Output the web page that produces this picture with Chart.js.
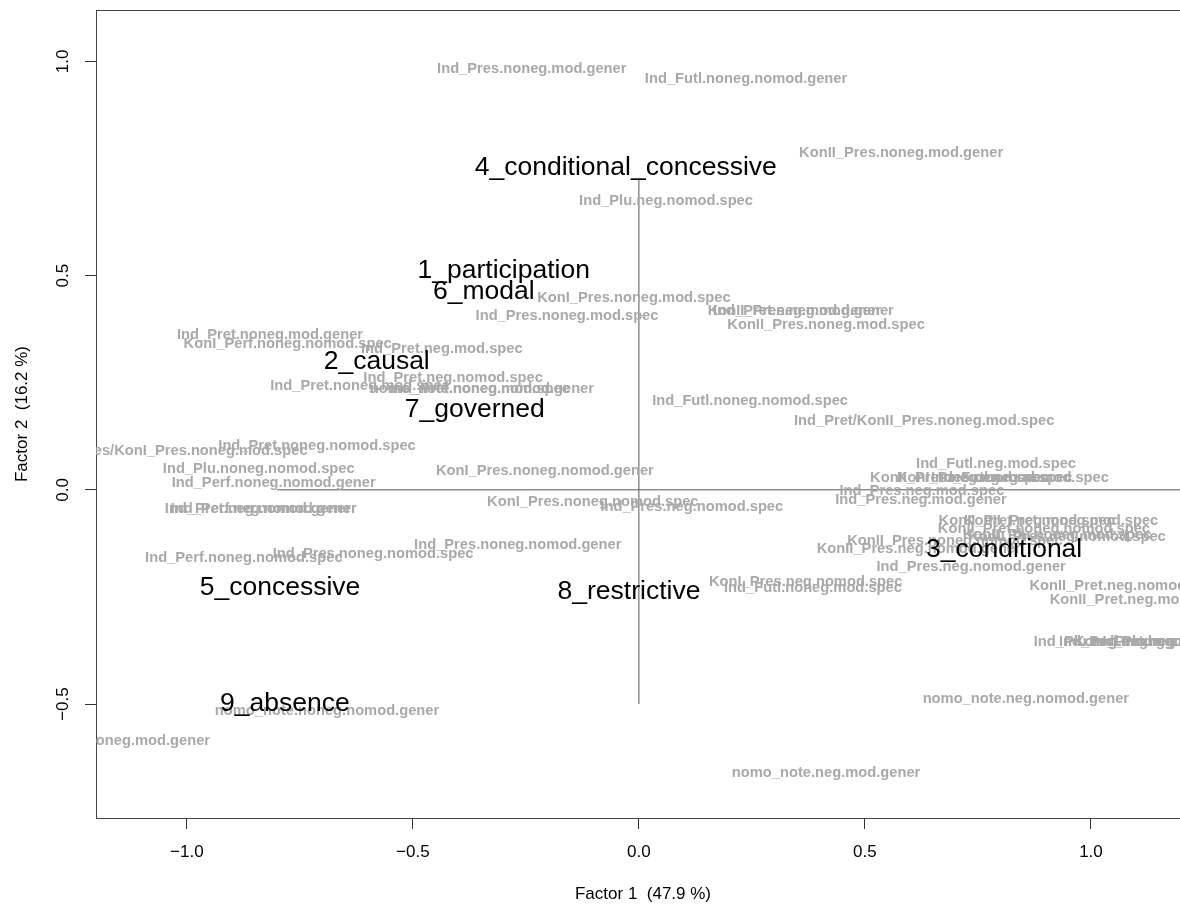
<!DOCTYPE html>
<html>
<head>
<meta charset="utf-8">
<script src="https://cdn.jsdelivr.net/npm/chart.js@4"></script>
<style>
  body { margin: 0; background: #fff; }
  canvas { display: block; }
</style>
</head>
<body>
<canvas id="caPlot" width="1180" height="905"></canvas>
<script>
const xTicks = [-1.0, -0.5, 0.0, 0.5, 1.0];
const yTicks = [-0.5, 0.0, 0.5, 1.0];

// row categories (black)
const rowLabels = ["4_conditional_concessive", "1_participation", "6_modal", "2_causal", "7_governed",
  "5_concessive", "8_restrictive", "3_conditional", "9_absence"];
const rowX = [-0.029, -0.299, -0.343, -0.580, -0.363, -0.794, -0.022, 0.808, -0.783];
const rowY = [0.752, 0.511, 0.462, 0.299, 0.187, -0.228, -0.238, -0.140, -0.499];

// column categories (grey)
const colLabels = [
  "Ind_Pres.noneg.mod.gener", "Ind_Futl.noneg.nomod.gener", "KonII_Pres.noneg.mod.gener", "Ind_Plu.neg.nomod.spec",
  "KonI_Pres.noneg.mod.spec", "Ind_Pres.noneg.mod.spec", "KonII_Pres.neg.mod.gener", "Ind_Pret.neg.mod.gener",
  "KonII_Pres.noneg.mod.spec", "Ind_Pret.noneg.mod.gener", "KonI_Perf.noneg.nomod.spec", "Ind_Pret.neg.mod.spec",
  "Ind_Pret.neg.nomod.spec", "Ind_Pret.noneg.mod.spec", "nomo_note.noneg.mod.spec", "Ind_Pret.noneg.nomod.gener",
  "Ind_Futl.noneg.nomod.spec", "Ind_Pret/KonII_Pres.noneg.mod.spec", "Ind_Pret.noneg.nomod.spec",
  "Ind_Pres/KonI_Pres.noneg.mod.spec", "Ind_Plu.noneg.nomod.spec", "Ind_Perf.noneg.nomod.gener",
  "KonI_Pres.noneg.nomod.gener", "Ind_Pret.neg.nomod.gener", "Ind_Perf.neg.nomod.gener", "KonI_Pres.noneg.nomod.spec",
  "Ind_Pres.neg.nomod.spec", "Ind_Pres.noneg.nomod.gener", "Ind_Perf.noneg.nomod.spec", "Ind_Pres.noneg.nomod.spec",
  "KonI_Pres.neg.nomod.spec", "Ind_Futl.noneg.mod.spec", "nomo_note.noneg.nomod.gener", "nomo_note.noneg.mod.gener",
  "nomo_note.neg.nomod.gener", "nomo_note.neg.mod.gener", "Ind_Futl.neg.mod.spec", "KonII_Pres.neg.mod.spec",
  "KonI_Pres.neg.mod.spec", "Ind_Futl.neg.nomod.spec", "Ind_Pres.neg.mod.spec", "Ind_Pres.neg.mod.gener",
  "KonII_Pret.neg.mod.spec", "KonII_Pret.noneg.mod.spec", "KonII_Pret.noneg.nomod.spec", "KonII_Pres.neg.nomod.spec",
  "KonII_Plu.noneg.mod.spec", "KonII_Pres.noneg.nomod.spec", "KonII_Pres.neg.nomod.gener", "Ind_Pres.neg.nomod.gener",
  "KonII_Pret.neg.nomod.gener", "KonII_Pret.neg.mod.gener", "Ind_Plu.neg.mod.gener", "Ind_Perf.neg.mod.spec",
  "KonI_Pret.neg.mod.spec", "Ind_Plu.neg.mod.spec"
];
const colX = [
  -0.237, 0.237, 0.580, 0.060,
  -0.011, -0.159, 0.358, 0.350,
  0.414, -0.816, -0.777, -0.436,
  -0.411, -0.617, -0.374, -0.325,
  0.246, 0.631, -0.712,
  -1.020, -0.841, -0.808,
  -0.208, -0.843, -0.830, -0.102,
  0.117, -0.268, -0.874, -0.588,
  0.369, 0.385, -0.690, -1.177,
  0.856, 0.414, 0.790, 0.710,
  0.765, 0.843, 0.626, 0.624,
  0.858, 0.934, 0.896, 0.947,
  0.925, 0.699, 0.619, 0.735,
  1.086, 1.111, 1.053, 1.108,
  1.153, 1.175
];
const colY = [
  0.982, 0.959, 0.786, 0.674,
  0.448, 0.406, 0.418, 0.418,
  0.385, 0.362, 0.341, 0.329,
  0.261, 0.243, 0.236, 0.236,
  0.208, 0.161, 0.103,
  0.091, 0.049, 0.016,
  0.044, -0.044, -0.044, -0.028,
  -0.040, -0.128, -0.159, -0.149,
  -0.215, -0.229, -0.516, -0.586,
  -0.488, -0.660, 0.061, 0.028,
  0.028, 0.028, -0.002, -0.023,
  -0.072, -0.072, -0.091, -0.110,
  -0.105, -0.119, -0.138, -0.180,
  -0.224, -0.257, -0.355, -0.355,
  -0.355, -0.355
];

// reference segments through the origin
const hLineX = [-0.8, 1.3];
const vLineY = [-0.5, 0.728];

const FONT = "'Liberation Sans', Arial, sans-serif";
const fmt = v => (v < 0 ? "\u2212" : "") + Math.abs(v).toFixed(1);

const labelPlugin = {
  id: "caLabels",
  afterDraw(chart) {
    const ctx = chart.ctx;
    const a = chart.chartArea;
    const xs = chart.scales.x, ys = chart.scales.y;
    ctx.save();
    // box
    ctx.strokeStyle = "#444";
    ctx.lineWidth = 1;
    ctx.strokeRect(a.left + 0.5, a.top + 0.5, a.right - a.left + 20, a.bottom - a.top);
    // y tick labels (rotated, R style)
    ctx.fillStyle = "#000";
    ctx.font = "17px " + FONT;
    ctx.textAlign = "center";
    ctx.textBaseline = "middle";
    yTicks.forEach(v => {
      ctx.save();
      ctx.translate(63, ys.getPixelForValue(v));
      ctx.rotate(-Math.PI / 2);
      ctx.fillText(fmt(v), 0, 0);
      ctx.restore();
    });
    // axis titles
    ctx.fillText("Factor 1  (47.9 %)", 643, 894);
    ctx.save();
    ctx.translate(22, (a.top + a.bottom) / 2);
    ctx.rotate(-Math.PI / 2);
    ctx.fillText("Factor 2  (16.2 %)", 0, 0);
    ctx.restore();
    // point labels, clipped to plot region
    ctx.beginPath();
    ctx.rect(a.left, a.top, a.right - a.left, a.bottom - a.top);
    ctx.clip();
    ctx.font = "bold 14.7px " + FONT;
    ctx.fillStyle = "#a9a9a9";
    colLabels.forEach((t, i) => {
      ctx.fillText(t, xs.getPixelForValue(colX[i]), ys.getPixelForValue(colY[i]));
    });
    ctx.font = "26.5px " + FONT;
    ctx.fillStyle = "#000";
    rowLabels.forEach((t, i) => {
      ctx.fillText(t, xs.getPixelForValue(rowX[i]), ys.getPixelForValue(rowY[i]));
    });
    ctx.restore();
  }
};

new Chart(document.getElementById("caPlot"), {
  type: "scatter",
  data: {
    datasets: [
      {
        data: hLineX.map(x => ({ x: x, y: 0 })),
        showLine: true,
        borderColor: "#555",
        borderWidth: 1,
        pointRadius: 0,
      },
      {
        data: vLineY.map(y => ({ x: 0, y: y })),
        showLine: true,
        borderColor: "#555",
        borderWidth: 1,
        pointRadius: 0,
      },
    ],
  },
  options: {
    responsive: false,
    animation: false,
    layout: { padding: { top: 10, right: 0, left: 0, bottom: 0 } },
    plugins: { legend: { display: false }, tooltip: { enabled: false } },
    scales: {
      x: {
        type: "linear",
        min: -1.201,
        max: 1.197,
        afterBuildTicks: s => { s.ticks = xTicks.map(v => ({ value: v })); },
        afterFit: s => { s.height = 87; },
        grid: { drawOnChartArea: false, drawTicks: true, tickLength: 11, color: "#333" },
        border: { display: true, color: "#444" },
        ticks: {
          padding: 13,
          color: "#000",
          font: { size: 17, family: FONT },
          callback: v => fmt(v),
        },
      },
      y: {
        type: "linear",
        min: -0.766,
        max: 1.120,
        afterBuildTicks: s => { s.ticks = yTicks.map(v => ({ value: v })); },
        afterFit: s => { s.width = 96; },
        grid: { drawOnChartArea: false, drawTicks: true, tickLength: 11, color: "#333" },
        border: { display: true, color: "#444" },
        ticks: { display: false },
      },
    },
  },
  plugins: [labelPlugin],
});
</script>
</body>
</html>
